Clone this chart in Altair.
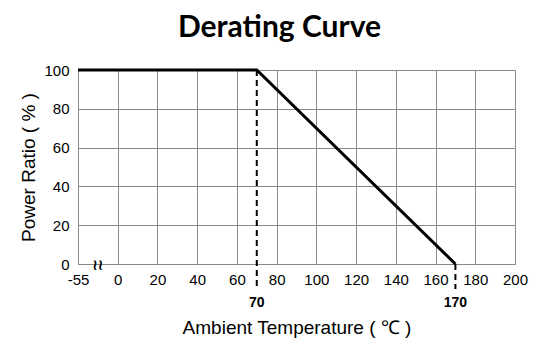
import altair as alt
import pandas as pd

# Data
curve_temp = [-55, 70, 170]
curve_ratio = [100, 100, 0]
marker_temp = [70, 170]
marker_ratio = [100, 0]
marker_label = ["70", "170"]
x_ticks = [-20, 0, 20, 40, 60, 80, 100, 120, 140, 160, 180, 200]
y_ticks = [0, 20, 40, 60, 80, 100]
title_text = ["Derating Curve"]

curve_df = pd.DataFrame({"temp": curve_temp, "ratio": curve_ratio})
mark_df = pd.DataFrame({"temp": marker_temp, "ratio": marker_ratio, "label": marker_label})
brk_df = pd.DataFrame({"temp": [-27.5], "ratio": [0]})
title_df = pd.DataFrame({"t": title_text})

W, H = 437, 194
pos_expr = "datum.temp < 0 ? datum.temp * 20 / 55 : datum.temp"

xscale = alt.Scale(domain=[-20, 200], nice=False)
yscale = alt.Scale(domain=[0, 100], nice=False)

xaxis = alt.Axis(
    values=x_ticks, labelExpr="datum.value == -20 ? '-55' : datum.label",
    grid=True, gridColor="#8a8a8a", gridWidth=1, ticks=False,
    domainColor="#8a8a8a", labelFont="Liberation Sans", labelFontSize=15,
    labelColor="#000", labelPadding=8, labelFlush=False, labelOverlap=False,
    title="Ambient Temperature ( ℃ )", titleFont="Liberation Sans",
    titleFontSize=19, titleFontWeight="normal", titleColor="#000",
    titleY=63, titleBaseline="middle",
)
yaxis = alt.Axis(
    values=y_ticks, grid=True, gridColor="#8a8a8a", gridWidth=1, ticks=False,
    domainColor="#8a8a8a", labelFont="Liberation Sans", labelFontSize=15,
    labelColor="#000", labelPadding=9, labelFlush=False, labelOverlap=False,
    title="Power Ratio ( % )", titleFont="Liberation Sans",
    titleFontSize=19, titleFontWeight="normal", titleColor="#000",
    titleX=-50, titleBaseline="middle",
)


def X(field):
    return alt.X(field, scale=xscale, axis=xaxis)


def Y(field):
    return alt.Y(field, scale=yscale, axis=yaxis)


base_curve = alt.Chart(curve_df).transform_calculate(pos=pos_expr)

line = base_curve.mark_line(color="#000", strokeWidth=3).encode(
    x=X("pos:Q"), y=Y("ratio:Q"),
)

marks = alt.Chart(mark_df).transform_calculate(pos=pos_expr)
rules = marks.mark_rule(color="#000", strokeWidth=2, strokeDash=[6, 4]).encode(
    x=X("pos:Q"),
    y=Y("ratio:Q"),
    y2=alt.value(H + 25),
)
labels = marks.mark_text(font="Liberation Sans", fontSize=14, fontWeight="bold",
                         color="#000", baseline="middle").encode(
    x=X("pos:Q"),
    y=alt.value(H + 39),
    text="label:N",
)
brk = alt.Chart(brk_df).transform_calculate(pos=pos_expr).mark_text(
    text="≀≀", font="DejaVu Sans", fontSize=15, fontWeight="bold",
    color="#000", baseline="middle", dy=1
).encode(x=X("pos:Q"), y=Y("ratio:Q"))

title = alt.Chart(title_df).mark_text(
    font="Lato", fontSize=30, fontWeight="bold", color="#000",
    baseline="alphabetic", align="center",
).encode(x=alt.value(W / 2 - 17), y=alt.value(-33), text="t:N")

chart = alt.layer(line, rules, labels, brk, title).properties(
    width=W, height=H,
    autosize="none",
    padding={"left": 78, "top": 70, "right": 32, "bottom": 87},
).configure_view(stroke=None)

chart.save("out.html", embed_options={"renderer": "svg", "actions": False})
